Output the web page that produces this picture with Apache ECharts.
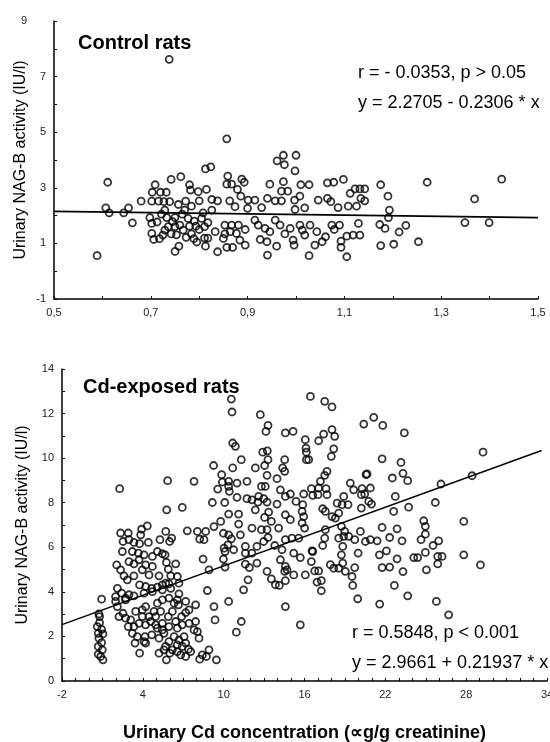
<!DOCTYPE html>
<html>
<head>
<meta charset="utf-8">
<script src="https://cdn.jsdelivr.net/npm/echarts@6/dist/echarts.min.js"></script>
<style>
  html, body { margin: 0; padding: 0; background: #fff; }
  #chart { width: 550px; height: 742px; }
</style>
</head>
<body>
<div id="chart"></div>
<script>
// control rats: [urinary Cd, NAG-B]
const ctrlPoints = [
  [0.589,0.56],[0.611,3.2],[0.614,2.1],[0.607,2.28],[0.644,2.1],[0.654,2.28],[0.662,1.74],[0.68,2.52],
  [0.709,3.11],[0.703,2.84],[0.72,2.84],[0.732,2.84],[0.702,2.52],[0.716,2.52],[0.727,2.5],[0.739,2.5],
  [0.742,3.3],[0.762,3.4],[0.78,3.11],[0.782,2.92],[0.798,2.86],[0.815,2.94],[0.813,3.68],[0.824,3.75],
  [0.826,2.58],[0.757,2.4],[0.772,2.52],[0.784,2.34],[0.8,2.53],[0.698,1.93],[0.702,1.72],[0.713,1.77],
  [0.702,1.36],[0.706,1.14],[0.718,1.17],[0.729,1.48],[0.736,1.6],[0.742,1.34],[0.75,1.6],[0.753,1.31],
  [0.76,1.66],[0.767,1.48],[0.773,1.22],[0.78,1.62],[0.784,1.34],[0.789,1.17],[0.793,1.62],[0.8,1.5],
  [0.811,1.6],[0.811,1.19],[0.818,1.19],[0.813,0.9],[0.758,0.9],[0.75,0.71],[0.833,1.42],[0.733,1.93],
  [0.75,1.93],[0.777,1.9],[0.805,1.9],[0.729,2.2],[0.77,2.2],[0.826,2.2],[0.738,7.62],
  [0.722,2.05],[0.745,1.78],[0.79,1.8],[0.818,1.75],[0.765,2.05],[0.808,2.1],[0.725,1.3],[0.795,1.05],
  [0.857,4.76],[0.961,3.97],[0.974,4.17],[1.0,4.17],[0.976,3.83],[0.998,3.61],[0.859,3.42],[0.857,3.13],
  [0.867,3.13],[0.888,3.31],[0.893,3.2],[0.879,2.94],[0.886,2.7],[0.838,2.53],[0.863,2.53],[0.901,2.56],
  [0.915,2.56],[0.941,2.62],[0.957,2.53],[0.97,2.53],[0.946,3.13],[0.974,3.22],[0.97,2.88],[0.983,2.88],
  [0.997,2.56],[1.008,2.7],[1.01,3.11],[1.027,3.11],[1.046,2.56],[1.065,3.18],[1.078,3.2],[1.098,3.3],
  [1.065,2.62],[1.072,2.5],[1.112,2.8],[1.122,2.96],[1.132,2.96],[1.142,2.96],[1.134,2.62],[1.142,2.53],
  [1.125,2.34],[1.108,2.34],[1.087,2.29],[0.874,2.32],[0.9,2.26],[0.929,2.29],[0.998,2.22],[1.018,2.28],
  [0.853,1.66],[0.867,1.66],[0.881,1.66],[0.895,1.5],[0.864,1.42],[0.877,1.36],[0.853,1.34],[0.884,1.12],
  [0.895,0.94],[0.85,1.18],[0.838,0.7],[0.857,0.86],[0.869,0.86],[0.922,1.66],[0.936,1.54],[0.946,1.42],
  [0.926,1.14],[0.94,1.06],[0.96,0.9],[0.941,0.58],[0.967,1.66],[0.977,1.34],[0.988,1.54],[0.994,1.12],
  [0.996,0.94],[1.008,1.66],[1.013,1.48],[1.018,1.3],[1.029,1.66],[1.039,0.94],[1.027,0.56],[1.043,1.42],
  [1.054,1.06],[1.061,1.24],[1.074,1.66],[1.079,1.5],[1.09,1.66],[1.093,1.08],[1.093,0.86],[1.105,0.52],
  [1.105,1.26],[1.118,1.3],[1.132,1.3],[1.129,1.72],[0.915,1.84],[0.957,1.84],
  [1.175,3.11],[1.19,2.7],[1.271,3.2],[1.369,2.6],[1.425,3.31],[1.193,2.2],[1.191,1.93],[1.173,1.68],
  [1.184,1.54],[1.213,1.41],[1.227,1.65],[1.175,0.92],[1.202,0.97],[1.253,1.06],[1.349,1.75],[1.399,1.75]
];

// Cd-exposed rats: [urinary Cd, NAG-B]
const cdPoints = [
  [0.94,3.67],[0.74,3.01],[0.79,2.62],[0.94,2.32],[0.69,2.14],[1.04,2.11],[0.74,1.92],[0.94,1.72],
  [0.69,1.55],[0.99,1.4],[0.69,1.2],[1.04,0.95],[0.87,1.1],[0.79,2.89],[0.62,2.44],
  [2.28,8.63],[5.84,8.99],[7.8,8.96],[5.77,7.68],[6.93,7.79],[9.16,8.01],[10.08,8.01],[9.85,9.26],
  [9.56,8.61],[9.9,8.93],[9.25,9.67],[9.28,6.93],[9.78,7.16],[9.98,6.63],[10.03,5.96],[10.1,5.81],
  [9.98,5.47],[10.1,5.11],[7.3,6.74],[8.05,6.71],[8.22,6.37],[8.67,6.71],[8.54,6.34],[8.47,5.47],
  [8.91,4.99],[8.79,4.06],[9.28,3.34],[9.36,2.74],[8.22,0.98],[8.72,1.1],[8.91,1.4],[9.46,0.95],[8.42,1.17],
  [5.7,6.71],[6.14,6.41],[5.99,6.26],[5.27,6.34],[5.65,5.66],[5.75,5.32],[6.44,5.26],[5.89,5.02],
  [6.07,4.72],[6.56,4.69],[6.68,3.91],[4.33,6.96],[3.91,6.81],[3.84,6.56],[2.35,6.64],[2.92,6.64],
  [2.53,6.26],[2.97,6.34],[3.34,6.22],[3.76,6.16],[4.41,6.22],[2.48,5.81],[3.22,5.81],[3.67,5.74],
  [4.09,5.66],[4.71,5.59],[5.08,5.81],[5.45,5.71],[2.97,5.36],[3.34,5.26],[3.72,5.44],[4.21,5.21],
  [2.06,5.21],[2.35,4.99],[2.6,4.72],[2.85,4.54],[3.34,4.72],[4.46,4.76],[3.76,4.31],[4.21,4.24],
  [4.66,4.16],[5.08,4.21],[5.45,4.31],[5.94,4.36],[2.11,4.16],[2.43,3.94],[2.97,3.87],[1.98,3.57],[2.72,3.64],
  [2.11,3.34],[2.53,3.04],[2.23,2.89],[2.72,2.82],[3.1,2.74],[2.92,2.44],[3.34,2.44],[3.22,2.14],
  [3.59,1.99],[3.42,1.7],[4.09,1.77],[3.76,1.25],[3.47,3.12],[3.96,3.19],[4.21,3.34],[3.96,2.89],
  [4.46,2.89],[4.83,3.12],[5.08,3.49],[5.45,3.64],[5.94,3.72],[6.32,3.49],[6.56,3.64],[6.64,3.42],
  [7.18,3.57],[7.43,3.19],[7.92,3.42],[3.72,2.59],[4.21,2.52],[4.58,2.67],[4.95,2.89],[5.32,3.12],
  [5.45,2.59],[5.89,2.89],[6.19,3.12],[6.44,2.67],[6.88,2.89],[7.18,3.07],[6.93,2.52],[7.43,2.59],
  [7.92,2.67],[7.8,2.29],[8.17,1.92],[8.05,2.22],[4.66,2.07],[5.2,1.92],[5.57,2.14],[5.94,1.77],
  [6.32,1.99],[6.68,1.84],[7.06,1.99],[7.18,1.7],[7.38,1.43],[6.93,1.55],[6.56,1.62],[6.19,1.4],
  [5.69,1.55],[5.2,1.25],[5.57,1.4],[5.75,0.95],[6.0,1.25],[6.56,1.32],[6.81,1.17],[7.18,1.1],
  [7.55,1.32],[4.16,1.99],[4.21,1.7],[4.95,2.52],[5.94,2.44],[5.08,2.37],[6.56,2.37],[5.45,2.29],
  [1.98,3.79],[2.72,3.72],[3.34,3.82],[4.09,3.94],[4.71,4.01],[5.45,4.09],[6.07,4.16],[6.68,4.39],
  [5.7,4.39],[5.2,4.72],[4.71,5.14],[3.96,4.99],
  [10.57,12.65],[10.62,12.07],[12.72,11.95],[16.44,12.77],[17.5,12.55],[18.04,12.3],[13.29,11.47],
  [13.14,11.2],[14.58,11.13],[15.15,11.2],[10.67,10.68],[10.87,10.53],[12.9,10.27],[13.24,10.33],
  [11.31,9.93],[10.67,9.56],[10.37,8.96],[10.99,8.88],[10.37,8.73],[16.06,10.83],[16.11,10.45],
  [16.14,10.27],[16.14,9.93],[16.31,9.93],[17.05,10.78],[17.42,11.08],[18.04,11.28],[18.24,10.98],
  [18.17,10.42],[17.99,10.08],[17.67,9.41],[17.5,9.23],[17.18,8.96],[14.53,9.93],[14.38,9.56],
  [14.53,9.41],[13.29,9.93],[13.04,9.67],[12.35,9.56],[13.22,9.23],[13.96,9.08],[11.73,8.96],
  [12.8,8.73],[13.09,8.73],[14.21,8.58],[14.95,8.39],[14.58,8.28],[15.94,8.39],[15.87,7.91],
  [16.51,8.63],[17.05,8.66],[17.6,8.63],[16.61,8.33],[17.0,8.36],[17.67,8.36],[15.37,8.06],
  [10.42,8.51],[10.99,8.24],[11.73,8.18],[12.1,8.13],[12.55,8.03],[12.97,8.18],[13.22,8.03],[12.6,8.28],
  [13.96,7.94],[10.37,7.49],[11.11,7.49],[12.35,7.68],[13.34,7.58],[13.54,7.16],[13.04,7.34],[11.11,7.04],
  [12.1,6.86],[12.8,6.79],[13.22,6.79],[11.24,6.56],[10.37,6.56],[10.57,6.38],[10.32,6.11],[10.74,5.89],
  [11.61,6.04],[12.47,6.04],[12.97,6.26],[13.29,6.44],[14.08,6.86],[14.58,7.46],[14.95,7.24],[15.82,7.61],
  [15.94,7.38],[15.82,7.09],[19.4,8.88],[19.65,8.58],[20.27,8.63],[20.89,8.66],[20.64,9.29],[20.22,8.36],
  [20.47,8.39],[18.91,8.28],[18.42,7.98],[18.79,7.91],[19.23,7.91],[18.04,7.38],[17.55,7.61],[17.35,7.73],
  [18.54,7.53],[18.29,7.31],[18.74,6.94],[18.98,6.71],[18.91,6.49],[18.54,6.41],[19.28,6.49],[19.73,6.34],
  [20.15,6.71],[20.22,7.76],[20.52,6.26],[20.89,6.34],[21.39,6.29],[17.55,6.79],[17.5,6.41],[17.35,6.08],
  [16.56,5.84],[16.01,6.86],[15.57,6.41],[15.2,5.74],[15.69,5.54],[15.07,6.41],[13.79,6.08],[14.58,6.34],
  [14.33,5.89],[14.21,5.44],[14.58,5.14],[14.7,4.99],[15.2,4.76],[14.53,4.92],[13.22,4.92],[13.54,4.58],
  [13.84,4.32],[14.13,4.29],[14.58,4.5],[12.47,5.29],[11.91,5.09],[11.61,5.24],[11.81,4.54],[11.48,4.09],
  [10.37,3.57],[11.31,2.67],[10.94,2.19],[14.58,3.34],[15.69,2.52],[16.06,4.76],[16.76,4.94],[17.05,4.94],
  [16.93,4.44],[17.25,4.5],[17.25,4.05],[17.92,5.22],[18.17,5.06],[18.54,5.06],[18.84,5.29],[19.03,4.92],
  [19.53,4.69],[19.58,4.29],[19.73,5.09],[19.95,3.69],[18.74,5.66],[18.84,6.04],[19.98,5.74],[21.56,5.66],
  [21.76,5.09],[21.58,3.45],[16.61,5.81],[16.51,5.36],[20.77,8.06],[20.97,7.94],[21.76,6.89],
  [11.61,5.74],[12.1,5.74],[20.4,11.53],[21.14,11.83],[21.81,11.47],[21.76,9.97],[20.57,9.26],
  [23.41,11.13],[23.16,9.81],[23.31,9.32],[23.66,8.99],[22.52,9.11],[29.25,10.27],[28.44,9.21],[26.13,8.84],
  [25.71,8.01],[22.74,8.28],[23.73,7.8],[22.62,7.61],[24.85,7.19],[24.97,6.94],[24.97,6.59],[24.65,6.34],
  [25.54,6.08],[25.96,6.29],[23.24,6.29],[22.87,6.83],[22.32,6.44],[27.82,7.16],[27.82,5.66],[29.06,5.21],
  [22.08,5.84],[22.87,5.48],[24.97,5.77],[24.11,5.54],[24.4,5.54],[25.89,5.59],[26.21,5.59],[25.89,5.26],
  [25.05,4.99],[23.31,4.91],[22.32,5.11],[22.67,4.29],[23.66,3.82],[25.79,3.57],[26.7,2.97]
];

// regression lines (end points)
const ctrlFit = [[0.5, 2.155], [1.5, 1.925]];
const cdFit = [[-2, 2.53], [33.6, 10.34]];

// tick labels
const ctrlXLabels = [0.5, 0.7, 0.9, 1.1, 1.3, 1.5];
const ctrlYLabels = [-1, 1, 3, 5, 7, 9];
const cdXLabels = [-2, 4, 10, 16, 22, 28, 34];
const cdYLabels = [0, 2, 4, 6, 8, 10, 12, 14];

const FONT = 'Liberation Sans, Arial, sans-serif';

const chart = echarts.init(document.getElementById('chart'));

function axisBase() {
    return {
        type: 'value',
        interval: 1,
        axisLine: { show: true, onZero: false, lineStyle: { color: '#000', width: 1.5 } },
        axisTick: { show: true, inside: true, length: 3, lineStyle: { color: '#000', width: 1 } },
        splitLine: { show: false },
        axisLabel: { fontSize: 11, color: '#222', fontFamily: FONT, margin: 8 },
        nameMoveOverlap: false
    };
}

const xTop = axisBase();
xTop.gridIndex = 0;
xTop.min = 0.5;
xTop.max = 1.5;
xTop.interval = 0.1;
xTop.axisLabel.customValues = ctrlXLabels;
xTop.axisLabel.formatter = v => v.toFixed(1).replace('.', ',');

const yTop = axisBase();
yTop.gridIndex = 0;
yTop.min = -1;
yTop.max = 9;
yTop.axisLabel.customValues = ctrlYLabels;
yTop.axisLabel.formatter = v => (v === 9 ? '{far|9}' : String(v));
yTop.axisLabel.rich = { far: { padding: [0, 19, 0, 0], fontSize: 11, color: '#222', fontFamily: FONT } };
yTop.name = 'Urinary NAG-B activity (IU/l)';
yTop.nameLocation = 'middle';
yTop.nameGap = 25;
yTop.nameTextStyle = { fontSize: 16, color: '#000', fontFamily: FONT };

const xBot = axisBase();
xBot.gridIndex = 1;
xBot.min = -2;
xBot.max = 34;
xBot.axisLabel.customValues = cdXLabels;
xBot.axisLabel.showMaxLabel = true;
xBot.name = 'Urinary Cd concentration (\u221Dg/g creatinine)';
xBot.nameLocation = 'middle';
xBot.nameGap = 43;
xBot.nameTextStyle = { fontSize: 18, fontWeight: 'bold', color: '#000', fontFamily: FONT };

const yBot = axisBase();
yBot.gridIndex = 1;
yBot.min = 0;
yBot.max = 14;
yBot.axisLabel.customValues = cdYLabels;
yBot.name = 'Urinary NAG-B activity (IU/l)';
yBot.nameLocation = 'middle';
yBot.nameGap = 31;
yBot.nameTextStyle = { fontSize: 16, color: '#000', fontFamily: FONT };

const dotStyle = { color: 'rgba(0,0,0,0)', borderColor: '#000', borderWidth: 1.8 };

function note(text, left, top, bold) {
    return {
        type: 'text', left: left, top: top, z: 100,
        style: { text: text, fill: '#000', font: (bold ? 'bold 20px ' : '18px ') + FONT }
    };
}

chart.setOption({
    animation: false,
    backgroundColor: '#fff',
    grid: [
        { left: 54, right: 12, top: 21, height: 278, containLabel: false, outerBoundsMode: 'none' },
        { left: 62, right: 3, top: 369, height: 312, containLabel: false, outerBoundsMode: 'none' }
    ],
    xAxis: [xTop, xBot],
    yAxis: [yTop, yBot],
    graphic: [
        note('Control rats', 78, 33, true),
        note('r = - 0.0353, p > 0.05', 358, 64, false),
        note('y = 2.2705 - 0.2306 * x', 358, 94, false),
        note('Cd-exposed rats', 83, 377, true),
        note('r = 0.5848, p < 0.001', 352, 624, false),
        note('y = 2.9661 + 0.21937 * x', 352, 654, false)
    ],
    series: [
        {
            type: 'scatter', xAxisIndex: 0, yAxisIndex: 0, data: ctrlPoints,
            symbol: 'circle', symbolSize: 7, itemStyle: dotStyle, emphasis: { disabled: true }
        },
        {
            type: 'line', xAxisIndex: 0, yAxisIndex: 0, data: ctrlFit, z: 5,
            symbol: 'none', lineStyle: { color: '#000', width: 1.8 }
        },
        {
            type: 'scatter', xAxisIndex: 1, yAxisIndex: 1, data: cdPoints,
            symbol: 'circle', symbolSize: 7, itemStyle: dotStyle, emphasis: { disabled: true }
        },
        {
            type: 'line', xAxisIndex: 1, yAxisIndex: 1, data: cdFit, z: 5,
            symbol: 'none', lineStyle: { color: '#000', width: 1.5 }
        }
    ]
});
</script>
</body>
</html>
